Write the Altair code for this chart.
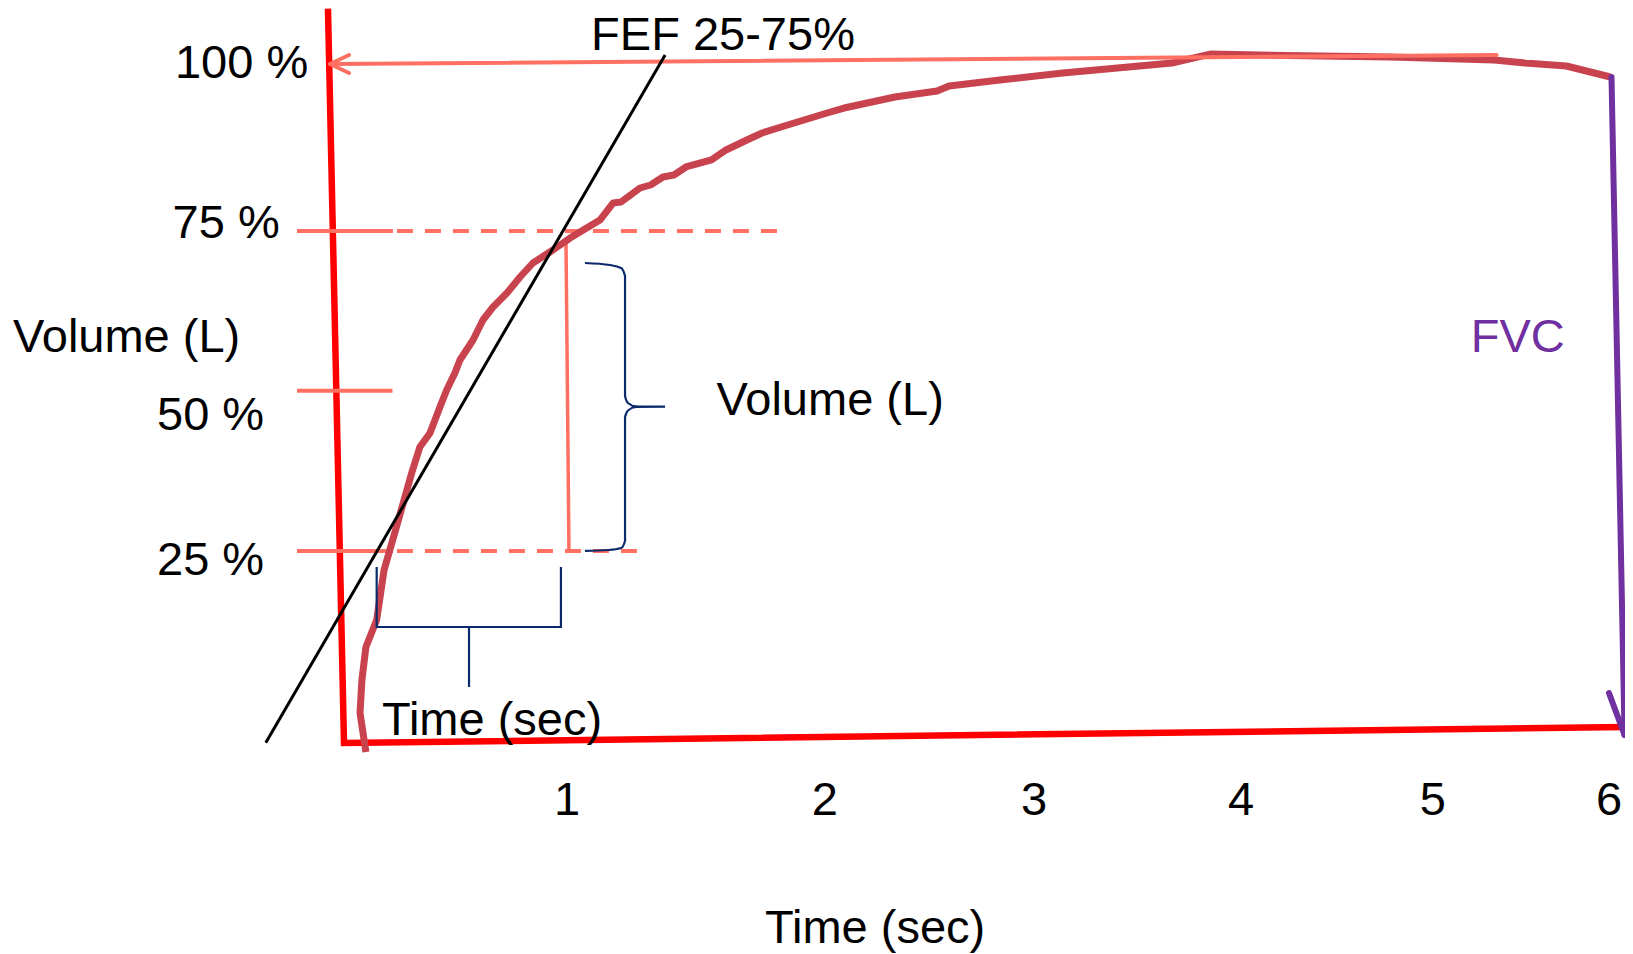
import altair as alt
import pandas as pd

# ---------------- data (time in s, volume in % of FVC) ----------------
curve_t = [0.104, 0.076, 0.085, 0.104, 0.155, 0.190, 0.216, 0.254, 0.289, 0.321,
           0.360, 0.408, 0.455, 0.487, 0.526, 0.550, 0.612, 0.659, 0.707, 0.773,
           0.835, 0.896, 0.991, 1.072, 1.143, 1.214, 1.276, 1.314, 1.404, 1.454,
           1.513, 1.565, 1.622, 1.743, 1.812, 1.911, 1.983, 2.073, 2.291, 2.372,
           2.613, 2.813, 2.870, 3.111, 3.410, 3.927, 4.108, 4.345, 4.961, 5.455,
           5.602, 5.798, 6.007]
curve_v = [-1.32, 4.41, 9.26, 14.12, 18.09, 25.44, 28.24, 32.35, 36.18, 39.71,
           43.53, 45.59, 49.41, 51.91, 54.41, 56.32, 59.26, 62.21, 64.12, 66.18,
           68.53, 70.59, 72.50, 74.26, 75.59, 76.91, 79.41, 79.56, 81.62, 82.06,
           83.24, 83.53, 84.71, 85.74, 87.21, 88.68, 89.71, 90.59, 92.65, 93.38,
           95.00, 95.88, 96.62, 97.50, 98.53, 100.00, 101.32, 101.18, 100.88, 100.44,
           100.00, 99.56, 97.94]

# hand-drawn axes (one polyline: top of y axis -> origin -> end of x axis)
axis_t = [-0.076, 0.0, 6.076]
axis_v = [108.0, 0.0, 2.35]

# FVC arrow
fvc_shaft_t = [6.012, 6.074]
fvc_shaft_v = [97.94, 1.18]
fvc_head_t = [6.000, 6.074, 6.147]
fvc_head_v = [7.35, 1.18, 7.35]

# 100 % arrow
top_shaft_t = [-0.066, 5.467]
top_shaft_v = [99.85, 101.18]
top_head_t = [0.024, -0.066, 0.024]
top_head_v = [101.18, 99.85, 98.53]

# level marks (75 %, 50 %, 25 %)
level_v = [75.29, 51.81, 28.24]
stub_t0 = [-0.223, -0.223, -0.223]
stub_t1 = [0.232, 0.230, 0.232]
dash_v = [75.29, 28.24]
dash_t0 = [0.251, 0.251]
dash_t1 = [2.054, 1.390]

# vertical volume marker between 25 % and 75 %
vmark_t = [1.053, 1.067]
vmark_v = [73.72, 28.24]

# FEF 25-75 % tangent
fef_t = [1.523, -0.371]
fef_v = [101.18, 0.04]

# curly brace (volume)
brace_t = [1.143, 1.262, 1.314, 1.333, 1.333, 1.347, 1.385, 1.523, 1.385, 1.347,
           1.333, 1.333, 1.314, 1.252, 1.143]
brace_v = [70.59, 70.29, 69.85, 68.68, 51.03, 50.00, 49.49, 49.46, 49.41, 48.90,
           47.94, 29.71, 28.68, 28.38, 28.24]

# time bracket
bracket_t = [0.155, 0.155, 1.029, 1.029]
bracket_v = [25.88, 17.06, 17.06, 25.88]
stem_t = [0.593, 0.593]
stem_v = [17.06, 8.24]

# texts
label_text = ["100 %", "75 %", "Volume (L)", "50 %", "25 %", "FEF 25-75%",
              "Volume (L)", "Time (sec)", "Time (sec)"]
label_t = [-0.802, -0.813, -1.570, -0.887, -0.887, 1.172, 1.767, 0.180, 1.997]
label_v = [97.79, 74.26, 57.50, 46.03, 24.71, 101.90, 48.24, 1.18, -29.41]

tick_text = ["1", "2", "3", "4", "5", "6"]
tick_t = [1.058, 2.281, 3.273, 4.255, 5.165, 6.0]
tick_v = [-10.59] * 6

fvc_text = ["FVC"]
fvc_t = [5.344]
fvc_v = [57.5]

# ---------------- chart ----------------
xs = alt.Scale(domain=[-1.5937, 6.0760], nice=False, zero=False)
ys = alt.Scale(domain=[-31.03, 108.09], nice=False, zero=False)


def X(f="t"):
    return alt.X(f"{f}:Q", scale=xs, axis=None)


def Y(f="v"):
    return alt.Y(f"{f}:Q", scale=ys, axis=None)


def poly(ts, vs, g=0):
    return pd.DataFrame({"t": ts, "v": vs, "i": list(range(len(ts))), "g": [g] * len(ts)})


def path_layer(df, **mark):
    return alt.Chart(df).mark_line(**mark).encode(
        x=X(), y=Y(), order="i:Q", detail="g:N")


RED = "#FF0000"
SALMON = "#FF7062"
CURVE = "#C9434F"
NAVY = "#0A2A6B"
PURPLE = "#7030A0"
FONT = "Liberation Sans"
FS = 47

axes = path_layer(poly(axis_t, axis_v), color=RED, strokeWidth=6.5, strokeJoin="miter",
                  strokeCap="butt")

stubs = alt.Chart(pd.DataFrame({"t": stub_t0, "t2": stub_t1, "v": level_v})).mark_rule(
    color=SALMON, strokeWidth=4).encode(x=X(), x2="t2:Q", y=Y())

dashes = alt.Chart(pd.DataFrame({"t": dash_t0, "t2": dash_t1, "v": dash_v})).mark_rule(
    color=SALMON, strokeWidth=4, strokeDash=[16, 12]).encode(x=X(), x2="t2:Q", y=Y())

vmark = path_layer(poly(vmark_t, vmark_v), color=SALMON, strokeWidth=3.5)

curve = path_layer(poly(curve_t, curve_v), color=CURVE, strokeWidth=7,
                   strokeJoin="round", strokeCap="butt")

top_arrow = path_layer(pd.concat([poly(top_shaft_t, top_shaft_v, 0),
                                  poly(top_head_t, top_head_v, 1)]),
                       color=SALMON, strokeWidth=4, strokeCap="round", strokeJoin="round")

fef = path_layer(poly(fef_t, fef_v), color="#000000", strokeWidth=3)

brace = path_layer(poly(brace_t, brace_v), color=NAVY, strokeWidth=2.2,
                   interpolate="monotone")
bracket = path_layer(pd.concat([poly(bracket_t, bracket_v, 0), poly(stem_t, stem_v, 1)]),
                     color=NAVY, strokeWidth=2.2)

fvc_arrow = path_layer(pd.concat([poly(fvc_shaft_t, fvc_shaft_v, 0),
                                  poly(fvc_head_t, fvc_head_v, 1)]),
                       color=PURPLE, strokeWidth=6, strokeCap="round", strokeJoin="round")

labels = alt.Chart(pd.DataFrame({"t": label_t, "v": label_v, "s": label_text})).mark_text(
    align="left", baseline="alphabetic", font=FONT, fontSize=FS, color="#000000"
).encode(x=X(), y=Y(), text="s:N")

ticks = alt.Chart(pd.DataFrame({"t": tick_t, "v": tick_v, "s": tick_text})).mark_text(
    align="center", baseline="alphabetic", font=FONT, fontSize=FS, color="#000000"
).encode(x=X(), y=Y(), text="s:N")

fvc_label = alt.Chart(pd.DataFrame({"t": fvc_t, "v": fvc_v, "s": fvc_text})).mark_text(
    align="left", baseline="alphabetic", font=FONT, fontSize=FS, color=PURPLE
).encode(x=X(), y=Y(), text="s:N")

chart = alt.layer(
    axes, stubs, dashes, vmark, curve, top_arrow, fef, brace, bracket, fvc_arrow,
    labels, ticks, fvc_label
).properties(
    width=1617, height=946, padding=0,
    autosize=alt.AutoSizeParams(type="none"),
    background="#FFFFFF",
).configure_view(stroke=None)

chart.save("out.html", embed_options={"renderer": "svg", "actions": False})
